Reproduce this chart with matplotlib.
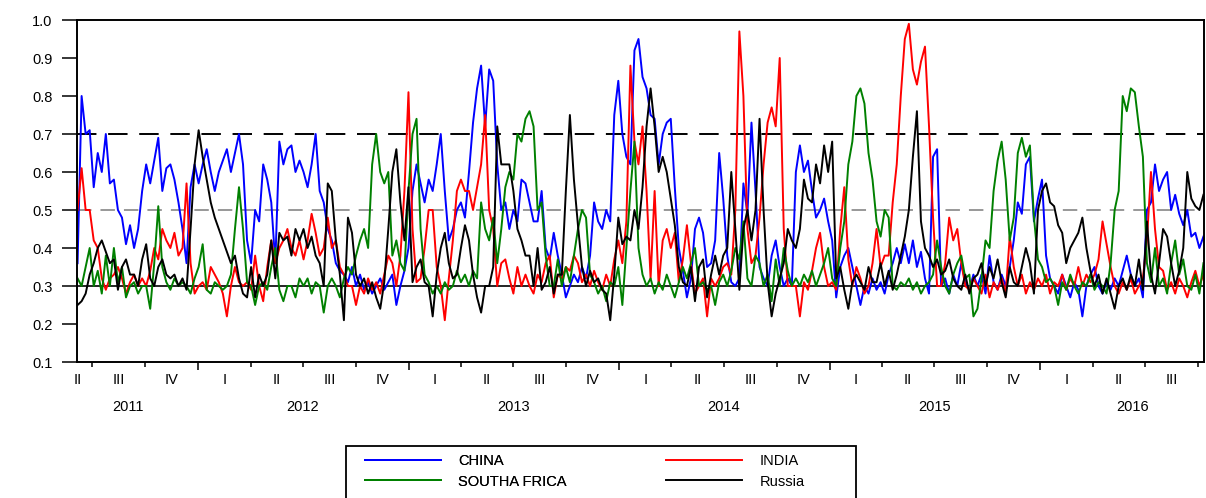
import numpy as np
import pandas as pd
import matplotlib
matplotlib.use('Agg')
import matplotlib.pyplot as plt
import matplotlib.dates as mdates
from matplotlib.patches import Rectangle
from matplotlib.transforms import blended_transform_factory

plt.rcParams['font.family'] = ['Liberation Sans', 'DejaVu Sans']

# weekly readings, June 2011 - Oct 2016
china = [
    0.36, 0.80, 0.70, 0.71, 0.56, 0.65, 0.60, 0.70, 0.57, 0.58,
    0.50, 0.48, 0.41, 0.46, 0.40, 0.45, 0.55, 0.62, 0.57, 0.63,
    0.69, 0.55, 0.61, 0.62, 0.58, 0.52, 0.45, 0.36, 0.56, 0.62,
    0.57, 0.62, 0.66, 0.60, 0.55, 0.60, 0.63, 0.66, 0.60, 0.65,
    0.70, 0.62, 0.42, 0.36, 0.50, 0.47, 0.62, 0.58, 0.52, 0.36,
    0.68, 0.62, 0.66, 0.67, 0.60, 0.63,
    0.60, 0.56, 0.62, 0.70, 0.55, 0.52, 0.45, 0.42, 0.36, 0.34,
    0.33, 0.31, 0.35, 0.30, 0.33, 0.29, 0.31, 0.28, 0.30, 0.32,
    0.29, 0.31, 0.33, 0.25, 0.30, 0.34, 0.40, 0.55, 0.62, 0.57,
    0.52, 0.58, 0.55, 0.62, 0.70, 0.55, 0.42, 0.45, 0.50, 0.52,
    0.48, 0.60, 0.73, 0.82, 0.88, 0.72, 0.87, 0.84, 0.62, 0.50,
    0.52, 0.45, 0.50, 0.47, 0.58, 0.57,
    0.52, 0.47, 0.47, 0.55, 0.40, 0.37, 0.44, 0.38, 0.33, 0.27,
    0.30, 0.33, 0.31, 0.35, 0.32, 0.38, 0.52, 0.47, 0.45, 0.50,
    0.47, 0.75, 0.84, 0.70, 0.64, 0.62, 0.92, 0.95, 0.85, 0.82,
    0.75, 0.74, 0.62, 0.70, 0.73, 0.74, 0.56, 0.40, 0.34, 0.27,
    0.32, 0.45, 0.48, 0.44, 0.35, 0.36, 0.42, 0.65, 0.53, 0.38,
    0.31, 0.30, 0.32, 0.57, 0.49, 0.73,
    0.55, 0.35, 0.32, 0.30, 0.38, 0.42, 0.35, 0.30, 0.32, 0.30,
    0.60, 0.67, 0.60, 0.63, 0.55, 0.48, 0.50, 0.53, 0.47, 0.42,
    0.27, 0.35, 0.38, 0.40, 0.35, 0.30, 0.25, 0.30, 0.28, 0.32,
    0.29, 0.31, 0.28, 0.33, 0.36, 0.40, 0.36, 0.41, 0.36, 0.42,
    0.35, 0.39, 0.32, 0.28, 0.64, 0.66, 0.30, 0.32, 0.28, 0.33,
    0.30, 0.36, 0.31, 0.29, 0.33,
    0.30, 0.33, 0.28, 0.38, 0.31, 0.29, 0.33, 0.30, 0.35, 0.42,
    0.52, 0.49, 0.62, 0.64, 0.47, 0.53, 0.58, 0.38, 0.32, 0.30,
    0.28, 0.33, 0.30, 0.27, 0.31, 0.29, 0.22, 0.30, 0.33, 0.35,
    0.30, 0.28, 0.31, 0.29, 0.32, 0.30, 0.34, 0.38, 0.33, 0.30,
    0.32, 0.27, 0.50, 0.52, 0.62, 0.55, 0.58, 0.60, 0.50, 0.54,
    0.49, 0.46, 0.50, 0.43, 0.44, 0.40, 0.43,
]

india = [
    0.50, 0.61, 0.50, 0.50, 0.42, 0.40, 0.32, 0.29, 0.32, 0.33,
    0.35, 0.32, 0.28, 0.31, 0.33, 0.30, 0.32, 0.30, 0.34, 0.40,
    0.37, 0.45, 0.42, 0.40, 0.44, 0.38, 0.40, 0.57, 0.36, 0.28,
    0.30, 0.31, 0.29, 0.35, 0.33, 0.31, 0.28, 0.22, 0.30, 0.35,
    0.31, 0.30, 0.31, 0.29, 0.38, 0.30, 0.26, 0.35, 0.42, 0.36,
    0.40, 0.42, 0.45, 0.40, 0.38, 0.42,
    0.37, 0.42, 0.49, 0.44, 0.38, 0.40, 0.48, 0.40, 0.42, 0.35,
    0.33, 0.30, 0.30, 0.25, 0.30, 0.28, 0.32, 0.29, 0.31, 0.28,
    0.33, 0.38, 0.36, 0.30, 0.38, 0.55, 0.81, 0.45, 0.31, 0.32,
    0.40, 0.50, 0.50, 0.35, 0.30, 0.21, 0.32, 0.42, 0.55, 0.58,
    0.55, 0.55, 0.50, 0.56, 0.62, 0.75, 0.50, 0.45, 0.30, 0.36,
    0.37, 0.32, 0.28, 0.35, 0.30, 0.33,
    0.30, 0.28, 0.33, 0.31, 0.36, 0.38, 0.27, 0.33, 0.32, 0.35,
    0.34, 0.38, 0.36, 0.31, 0.33, 0.30, 0.34, 0.31, 0.29, 0.33,
    0.30, 0.37, 0.42, 0.36, 0.47, 0.88, 0.68, 0.62, 0.72, 0.55,
    0.32, 0.55, 0.30, 0.42, 0.45, 0.40, 0.44, 0.31, 0.37, 0.46,
    0.36, 0.28, 0.30, 0.32, 0.22, 0.32, 0.30, 0.32, 0.35, 0.36,
    0.33, 0.50, 0.97, 0.80, 0.45, 0.36,
    0.38, 0.48, 0.62, 0.73, 0.77, 0.72, 0.90, 0.45, 0.30, 0.30,
    0.30, 0.22, 0.31, 0.29, 0.34, 0.40, 0.44, 0.35, 0.30, 0.31,
    0.29, 0.45, 0.56, 0.37, 0.30, 0.35, 0.32, 0.28, 0.30, 0.36,
    0.45, 0.35, 0.38, 0.38, 0.52, 0.62, 0.80, 0.95, 0.99, 0.87,
    0.83, 0.89, 0.93, 0.72, 0.48, 0.30, 0.30, 0.36, 0.48, 0.42,
    0.45, 0.36, 0.30, 0.29, 0.32,
    0.30, 0.28, 0.33, 0.27, 0.31, 0.29, 0.32, 0.28, 0.43, 0.35,
    0.30, 0.33, 0.28, 0.31, 0.29, 0.32, 0.30, 0.33, 0.28, 0.31,
    0.30, 0.33, 0.29, 0.32, 0.30, 0.35, 0.30, 0.33, 0.31, 0.33,
    0.37, 0.47, 0.41, 0.35, 0.30, 0.28, 0.31, 0.29, 0.32, 0.28,
    0.30, 0.32, 0.42, 0.60, 0.45, 0.35, 0.34, 0.29, 0.31, 0.28,
    0.32, 0.30, 0.27, 0.31, 0.34, 0.30, 0.33,
]

south_africa = [
    0.32, 0.30, 0.35, 0.40, 0.30, 0.34, 0.28, 0.38, 0.30, 0.40,
    0.31, 0.35, 0.27, 0.30, 0.31, 0.28, 0.30, 0.30, 0.24, 0.36,
    0.51, 0.35, 0.31, 0.29, 0.32, 0.30, 0.31, 0.30, 0.28, 0.32,
    0.35, 0.41, 0.29, 0.28, 0.31, 0.30, 0.29, 0.30, 0.33, 0.45,
    0.56, 0.45, 0.31, 0.30, 0.25, 0.30, 0.31, 0.29, 0.35, 0.40,
    0.29, 0.26, 0.30, 0.30, 0.27, 0.32,
    0.30, 0.32, 0.28, 0.31, 0.30, 0.23, 0.30, 0.32, 0.30, 0.27,
    0.32, 0.35, 0.33, 0.38, 0.42, 0.45, 0.40, 0.62, 0.70, 0.60,
    0.57, 0.60, 0.38, 0.42, 0.36, 0.34, 0.55, 0.70, 0.74, 0.45,
    0.33, 0.31, 0.28, 0.30, 0.28, 0.31, 0.29, 0.30, 0.34, 0.31,
    0.33, 0.30, 0.34, 0.32, 0.52, 0.45, 0.42, 0.48, 0.36, 0.45,
    0.56, 0.60, 0.58, 0.70, 0.68, 0.74,
    0.76, 0.72, 0.50, 0.52, 0.38, 0.30, 0.30, 0.37, 0.30, 0.35,
    0.31, 0.38, 0.45, 0.50, 0.48, 0.33, 0.31, 0.28, 0.30, 0.26,
    0.31, 0.30, 0.35, 0.25, 0.40, 0.55, 0.68, 0.40, 0.33, 0.30,
    0.32, 0.28, 0.31, 0.29, 0.33, 0.30, 0.27, 0.31, 0.35, 0.32,
    0.36, 0.40, 0.30, 0.31, 0.29, 0.30, 0.25, 0.31, 0.33, 0.30,
    0.34, 0.40, 0.37, 0.47, 0.32, 0.30,
    0.38, 0.36, 0.30, 0.33, 0.26, 0.37, 0.30, 0.40, 0.34, 0.30,
    0.32, 0.30, 0.33, 0.31, 0.34, 0.30, 0.33, 0.36, 0.40, 0.32,
    0.30, 0.40, 0.47, 0.62, 0.68, 0.80, 0.82, 0.78, 0.65, 0.58,
    0.47, 0.43, 0.50, 0.48, 0.30, 0.29, 0.31, 0.30, 0.32, 0.29,
    0.31, 0.28, 0.30, 0.31, 0.33, 0.42, 0.35, 0.30, 0.28, 0.33,
    0.36, 0.38, 0.32, 0.33, 0.22,
    0.24, 0.32, 0.42, 0.40, 0.55, 0.63, 0.68, 0.58, 0.42, 0.48,
    0.65, 0.69, 0.64, 0.67, 0.48, 0.37, 0.35, 0.31, 0.32, 0.30,
    0.25, 0.31, 0.29, 0.33, 0.30, 0.28, 0.31, 0.30, 0.33, 0.29,
    0.31, 0.30, 0.28, 0.36, 0.50, 0.55, 0.80, 0.76, 0.82, 0.81,
    0.72, 0.64, 0.36, 0.31, 0.40, 0.30, 0.32, 0.28, 0.36, 0.42,
    0.33, 0.37, 0.30, 0.29, 0.33, 0.28, 0.36,
]

russia = [
    0.25, 0.26, 0.28, 0.33, 0.36, 0.40, 0.42, 0.39, 0.36, 0.37,
    0.29, 0.35, 0.37, 0.33, 0.33, 0.30, 0.37, 0.41, 0.32, 0.30,
    0.35, 0.37, 0.33, 0.32, 0.33, 0.30, 0.32, 0.29, 0.45, 0.62,
    0.71, 0.64, 0.58, 0.52, 0.48, 0.45, 0.42, 0.39, 0.36, 0.38,
    0.32, 0.28, 0.27, 0.35, 0.27, 0.33, 0.30, 0.33, 0.42, 0.32,
    0.44, 0.42, 0.43, 0.38, 0.45, 0.42,
    0.45, 0.40, 0.43, 0.38, 0.36, 0.30, 0.57, 0.55, 0.42, 0.33,
    0.21, 0.48, 0.44, 0.33, 0.30, 0.32, 0.28, 0.31, 0.27, 0.24,
    0.31, 0.45, 0.60, 0.66, 0.52, 0.42, 0.56, 0.31, 0.35, 0.37,
    0.31, 0.30, 0.22, 0.33, 0.40, 0.44, 0.36, 0.32, 0.33, 0.40,
    0.46, 0.42, 0.33, 0.27, 0.23, 0.30, 0.30, 0.35, 0.72, 0.62,
    0.62, 0.62, 0.55, 0.45, 0.42, 0.38,
    0.38, 0.30, 0.40, 0.29, 0.31, 0.35, 0.28, 0.33, 0.33, 0.55,
    0.75, 0.58, 0.46, 0.35, 0.30, 0.34, 0.31, 0.32, 0.29, 0.28,
    0.21, 0.33, 0.48, 0.41, 0.43, 0.42, 0.50, 0.45, 0.56, 0.72,
    0.82, 0.72, 0.60, 0.64, 0.60, 0.53, 0.46, 0.35, 0.31, 0.30,
    0.35, 0.26, 0.35, 0.37, 0.27, 0.33, 0.38, 0.33, 0.38, 0.40,
    0.60, 0.45, 0.29, 0.45, 0.50, 0.42,
    0.50, 0.74, 0.50, 0.31, 0.22, 0.28, 0.32, 0.36, 0.45, 0.42,
    0.40, 0.45, 0.58, 0.53, 0.52, 0.62, 0.57, 0.67, 0.60, 0.68,
    0.32, 0.35, 0.29, 0.24, 0.31, 0.33, 0.31, 0.29, 0.35, 0.31,
    0.31, 0.36, 0.30, 0.34, 0.29, 0.33, 0.38, 0.43, 0.50, 0.64,
    0.76, 0.47, 0.40, 0.38, 0.35, 0.37, 0.33, 0.34, 0.37, 0.32,
    0.30, 0.29, 0.33, 0.28, 0.32,
    0.33, 0.36, 0.30, 0.35, 0.32, 0.37, 0.31, 0.27, 0.35, 0.31,
    0.30, 0.35, 0.40, 0.36, 0.28, 0.50, 0.55, 0.57, 0.52, 0.51,
    0.46, 0.44, 0.36, 0.40, 0.42, 0.44, 0.48, 0.40, 0.34, 0.30,
    0.33, 0.28, 0.32, 0.28, 0.24, 0.30, 0.32, 0.29, 0.33, 0.30,
    0.37, 0.29, 0.47, 0.33, 0.28, 0.36, 0.45, 0.43, 0.36, 0.30,
    0.34, 0.40, 0.60, 0.53, 0.51, 0.50, 0.54,
]

series_names = ['CHINA', 'INDIA', 'SOUTHA FRICA', 'Russia']
series_colors = ['#0000ff', '#ff0000', '#008000', '#000000']
year_labels = ['2011', '2012', '2013', '2014', '2015', '2016']
quarter_names = ['I', 'II', 'III', 'IV']

n = min(len(china), len(india), len(south_africa), len(russia))
dates = pd.date_range('2011-06-06', periods=n, freq='7D')

W, H = 1206, 498
fig = plt.figure(figsize=(W / 100, H / 100), dpi=100)
ax = fig.add_axes([77 / W, 1 - 362 / H, 1127 / W, 342 / H])

# reference levels
ax.axhline(0.7, color='black', lw=1.4, dashes=(10, 6), zorder=1)
ax.axhline(0.5, color='#909090', lw=1.3, dashes=(8, 5), zorder=1)
ax.axhline(0.3, color='black', lw=1.2, zorder=1)

handles = []
for vals, name, col in zip([china, india, south_africa, russia], series_names, series_colors):
    ln, = ax.plot(dates, vals[:n], color=col, lw=1.4, label=name, zorder=2)
    handles.append(ln)

ax.set_ylim(0.1, 1.0)
ax.set_yticks(np.arange(0.1, 1.01, 0.1))
ax.set_yticklabels([f'{v:.1f}' for v in np.arange(0.1, 1.01, 0.1)])
ax.set_xlim(pd.Timestamp('2011-06-05'), pd.Timestamp('2016-10-11'))

ax.xaxis.set_major_locator(mdates.YearLocator())
ax.xaxis.set_minor_locator(mdates.MonthLocator(bymonth=[1, 4, 7, 10]))
ax.xaxis.set_major_formatter(plt.NullFormatter())
ax.tick_params(axis='x', which='major', length=6, width=1.1, direction='out')
ax.tick_params(axis='x', which='minor', length=3.6, width=1.1, direction='out')
ax.tick_params(axis='y', length=10.8, width=1.1, direction='out', pad=7, labelsize=10.5)
for s in ax.spines.values():
    s.set_linewidth(1.4)

# quarter and year labels under the axis
tr = blended_transform_factory(ax.transData, ax.transAxes)
ax.text(mdates.date2num(pd.Timestamp('2011-06-07')), -0.0526, 'II', transform=tr,
        ha='center', va='center', fontsize=10.5)
for p in pd.period_range('2011Q3', '2016Q3', freq='Q'):
    mid = p.start_time + (p.end_time - p.start_time) / 2
    ax.text(mdates.date2num(mid), -0.0526, quarter_names[p.quarter - 1], transform=tr,
            ha='center', va='center', fontsize=10.5)

year_pos = ['2011-09-01', '2012-07-01', '2013-07-01', '2014-07-01', '2015-07-01', '2016-06-09']
for lab, d in zip(year_labels, year_pos):
    ax.text(mdates.date2num(pd.Timestamp(d)), -0.132, lab, transform=tr,
            ha='center', va='center', fontsize=10.5)

# legend: box runs off the bottom edge, two columns placed separately
fig.patches.append(Rectangle((346 / W, -0.05), 510 / W, 0.05 + 1 - 446 / H,
                             transform=fig.transFigure, fill=False,
                             edgecolor='black', lw=1.3))
leg_kw = dict(loc='upper left', fontsize=10.5, handlelength=5.2, handletextpad=1.2,
              borderpad=0, labelspacing=0.45, borderaxespad=0, frameon=False)
leg1 = fig.legend([handles[0], handles[2]], [series_names[0], series_names[2]],
                  bbox_to_anchor=(365 / W, 1 - 454 / H), **leg_kw)
fig.add_artist(leg1)
fig.legend([handles[1], handles[3]], [series_names[1], series_names[3]],
           bbox_to_anchor=(666 / W, 1 - 454 / H), **leg_kw)

plt.savefig('out.png', dpi=100)
